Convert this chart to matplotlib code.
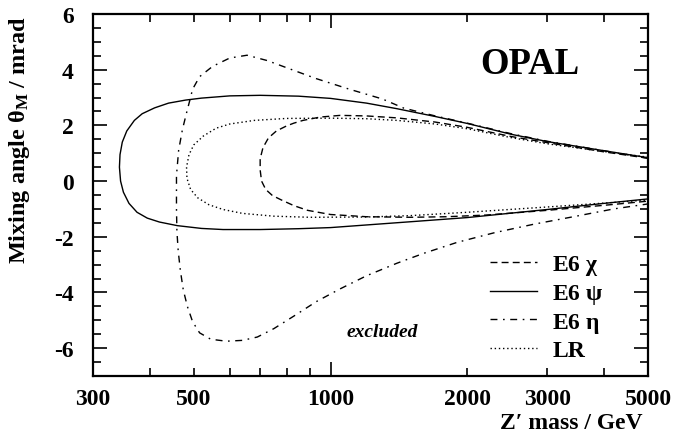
import matplotlib
matplotlib.use("Agg")
import matplotlib.pyplot as plt
from matplotlib.ticker import FixedLocator, FixedFormatter, MultipleLocator

plt.rcParams["font.family"] = ["Liberation Serif", "DejaVu Serif"]
plt.rcParams["font.weight"] = "bold"
plt.rcParams["mathtext.fontset"] = "custom"
plt.rcParams["mathtext.rm"] = "Liberation Serif"
plt.rcParams["mathtext.it"] = "Liberation Serif:italic"
plt.rcParams["mathtext.bf"] = "Liberation Serif:bold"
plt.rcParams["axes.unicode_minus"] = False

# 95% CL contours, (Z' mass in GeV, mixing angle in mrad), traced round each closed curve
chi_mass = [5000, 4000, 3000, 2500, 2000, 1700, 1400, 1200, 1050, 950, 870, 830, 800, 760, 730,
            710, 700, 700, 705, 720, 745, 780, 830, 890, 1000, 1200, 1500, 1800, 2200, 3000,
            4000, 5000]
chi_angle = [0.82, 1.05, 1.38, 1.6, 1.93, 2.12, 2.27, 2.34, 2.36, 2.3, 2.18, 2.08, 1.98, 1.8, 1.55,
             1.2, 0.8, 0.4, 0.0, -0.3, -0.52, -0.68, -0.88, -1.05, -1.2, -1.28, -1.3, -1.28, -1.22,
             -1.05, -0.87, -0.72]

psi_mass = [5000, 4000, 3000, 2500, 2000, 1700, 1400, 1200, 1000, 850, 700, 600, 520, 480, 440,
            410, 385, 370, 356, 348, 344, 343, 345, 350, 360, 375, 395, 420, 460, 520, 580, 700,
            850, 1000, 1500, 2000, 3000, 4000, 5000]
psi_angle = [0.84, 1.09, 1.42, 1.68, 2.07, 2.32, 2.6, 2.8, 2.97, 3.05, 3.08, 3.06, 2.98, 2.91, 2.8,
             2.63, 2.42, 2.18, 1.8, 1.4, 0.95, 0.5, 0.0, -0.4, -0.8, -1.12, -1.33, -1.47, -1.6,
             -1.7, -1.74, -1.74, -1.71, -1.67, -1.46, -1.31, -1.02, -0.8, -0.64]

eta_mass = [5000, 4000, 3000, 2500, 2000, 1700, 1450, 1300, 1100, 930, 810, 725, 655, 600, 550,
            515, 497, 490, 482, 472, 463, 458, 458, 459, 462, 467, 474, 484, 497, 515, 545, 590,
            640, 690, 750, 830, 930, 1050, 1200, 1400, 1600, 1900, 2300, 2800, 3500, 4200, 5000]
eta_angle = [0.82, 1.09, 1.43, 1.7, 2.08, 2.34, 2.62, 2.95, 3.3, 3.68, 4.04, 4.33, 4.52, 4.42, 4.12,
             3.75, 3.3, 2.9, 2.45, 1.85, 1.1, 0.2, -1.0, -1.8, -2.5, -3.2, -3.9, -4.5, -5.05,
             -5.45, -5.68, -5.75, -5.72, -5.6, -5.3, -4.85, -4.33, -3.87, -3.4, -2.95, -2.6, -2.2,
             -1.85, -1.55, -1.25, -1.0, -0.82]

lr_mass = [5000, 4000, 3000, 2500, 2000, 1700, 1400, 1200, 1000, 800, 680, 600, 560, 525, 500, 488,
           482, 483, 492, 510, 540, 580, 640, 750, 900, 1200, 1500, 2000, 3000, 4000, 5000]
lr_angle = [0.86, 1.06, 1.34, 1.56, 1.88, 2.05, 2.18, 2.24, 2.26, 2.25, 2.18, 2.05, 1.9, 1.62, 1.3,
            0.95, 0.5, 0.1, -0.3, -0.6, -0.85, -1.02, -1.16, -1.26, -1.3, -1.29, -1.24, -1.12,
            -0.93, -0.79, -0.68]

model_names = ["E6 $\\mathrm{\\chi}$", "E6 $\\mathrm{\\psi}$", "E6 $\\mathrm{\\eta}$", "LR"]

xtick_vals = [300, 400, 500, 600, 700, 800, 900, 2000, 3000, 4000, 5000]
xtick_text = ["300", "", "500", "", "", "", "", "2000", "3000", "", "5000"]

fig = plt.figure(figsize=(6.73, 4.39), dpi=100)
ax = fig.add_axes([0.1382, 0.1412, 0.8247, 0.8246])

lw = 1.0
ax.plot(chi_mass, chi_angle, color="black", lw=lw, ls=(0, (5, 3)), label=model_names[0])
ax.plot(psi_mass, psi_angle, color="black", lw=lw, ls="-", label=model_names[1])
ax.plot(eta_mass, eta_angle, color="black", lw=lw, ls=(0, (5, 4, 1.2, 4)), label=model_names[2])
ax.plot(lr_mass, lr_angle, color="black", lw=lw, ls=(0, (1, 2)), label=model_names[3])

ax.set_xscale("log")
ax.set_xlim(300, 5000)
ax.set_ylim(-7, 6)

# only the decade gets a long tick
ax.xaxis.set_major_locator(FixedLocator([1000]))
ax.xaxis.set_major_formatter(FixedFormatter(["1000"]))
ax.xaxis.set_minor_locator(FixedLocator(xtick_vals))
ax.xaxis.set_minor_formatter(FixedFormatter(xtick_text))
ax.yaxis.set_major_locator(MultipleLocator(2))
ax.yaxis.set_minor_locator(MultipleLocator(0.5))

ax.tick_params(which="both", direction="in", top=True, right=True, width=1.2,
               labelsize=17, pad=14)
ax.tick_params(axis="x", which="both", pad=8.5)
ax.tick_params(which="major", length=10)
ax.tick_params(which="minor", length=5.5)
for s in ax.spines.values():
    s.set_linewidth(1.6)

ax.set_ylabel("Mixing angle $\\mathrm{\\theta}_{\\mathbf{M}}$ / mrad", fontsize=17.5,
              fontweight="bold")
ax.yaxis.set_label_coords(-0.11, 0.655)
ax.set_xlabel("Z\u2032 mass / GeV", fontsize=17, fontweight="bold")
ax.xaxis.set_label_coords(0.99, -0.10)
ax.xaxis.label.set_horizontalalignment("right")

ax.text(0.787, 0.862, "OPAL", transform=ax.transAxes, fontsize=26.5, fontweight="bold",
        ha="center", va="center")
ax.text(0.521, 0.124, "excluded", transform=ax.transAxes, fontsize=14, fontweight="bold",
        style="italic", ha="center", va="center")

ax.legend(loc="lower left", bbox_to_anchor=(0.715, 0.042), frameon=False, fontsize=17,
          handlelength=2.0, handletextpad=0.64, labelspacing=0.2, borderpad=0,
          borderaxespad=0)

fig.savefig("out.png", dpi=100)
